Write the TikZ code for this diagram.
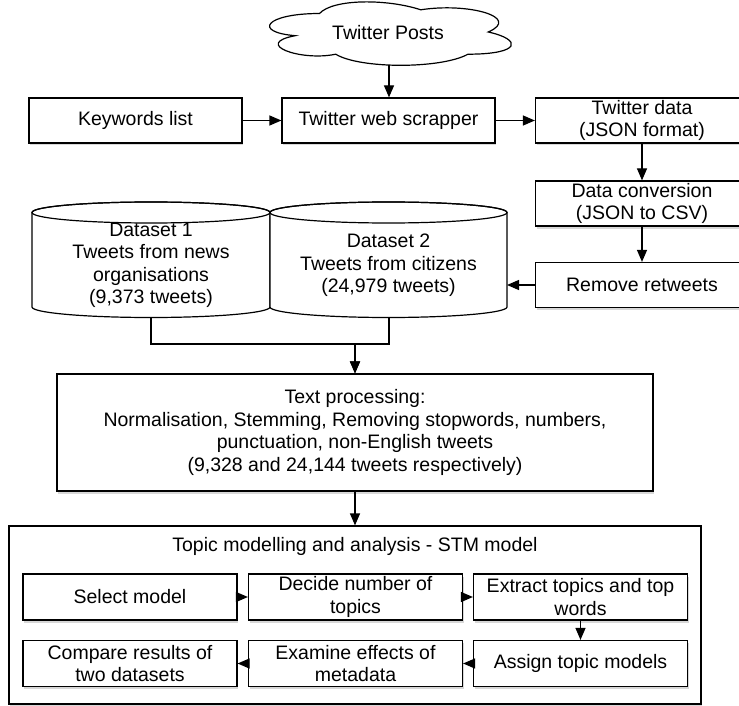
\documentclass[tikz,border=0pt]{standalone}
\usepackage{fontspec}
\setmainfont{Liberation Sans}
\usetikzlibrary{arrows.meta,shadows}
\newcommand\dfont{\fontsize{19.5}{22.5}\selectfont}
\tikzset{
 lw/.style={line width=1.2pt},
 boxshadow/.style={drop shadow={shadow xshift=1pt,shadow yshift=-2.5pt,opacity=0.22,fill=black!70}},
 flowbox/.style={draw, lw, fill=white, minimum width=213pt, minimum height=45pt, inner sep=0pt, align=center, font=\dfont, boxshadow},
 innerbox/.style={flowbox, minimum width=214pt, minimum height=46pt},
 txt/.style={align=center, font=\dfont, inner sep=0pt},
 arr/.style={lw, -{Triangle[length=12pt,width=10pt]}},
}
\begin{document}
\begin{tikzpicture}[x=1pt,y=-1pt]
\useasboundingbox (0,0) rectangle (739,706);
% cloud
\draw[lw, fill=white] (319.5,13.5) .. controls (265.5,13.5) and (252,32) .. (295.2,35.7)
  .. controls (252,43.84) and (300.6,61.6) .. (335.7,54.2)
  .. controls (360,69) and (441,69) .. (468,54.2)
  .. controls (522,54.2) and (522,39.4) .. (488.25,32)
  .. controls (522,17.2) and (468,2.4) .. (420.75,9.8)
  .. controls (387,-1.3) and (333,-1.3) .. (319.5,13.5) -- cycle;
\node[txt] (posts) at (388,33) {Twitter Posts};
\coordinate (postsb) at (389,65.3);

% first row
\node[flowbox] (kw) at (135.5,120.5) {Keywords list};
\node[flowbox] (scr) at (388.5,120.5) {Twitter web scrapper};
\node[flowbox] (tdata) at (642,120.5) {Twitter data\\(JSON format)};
\node[flowbox] (conv) at (642,203.5) {Data conversion\\(JSON to CSV)};
\node[flowbox] (rm) at (642,285) {Remove retweets};

% cylinders
\draw[lw, fill=white] (32,212.5) -- (32,307) arc[start angle=180,end angle=0,x radius=119,y radius=10.5]
  -- (270,212.5) arc[start angle=0,end angle=-180,x radius=119,y radius=10.5] -- cycle;
\draw[lw] (151,212.5) ellipse [x radius=119, y radius=10.5];
\draw[lw, fill=white] (270,212.5) -- (270,307) arc[start angle=180,end angle=0,x radius=118.5,y radius=10.5]
  -- (507,212.5) arc[start angle=0,end angle=-180,x radius=118.5,y radius=10.5] -- cycle;
\draw[lw] (388.5,212.5) ellipse [x radius=118.5, y radius=10.5];
\node[txt] (ds1) at (151,265.5) {Dataset 1\\Tweets from news\\organisations\\(9,373 tweets)};
\node[txt] (ds2) at (388.5,265.5) {Dataset 2\\Tweets from citizens\\(24,979 tweets)};
\coordinate (ds1b) at (151,317.5);
\coordinate (ds2b) at (389,317.5);
\coordinate (ds2r) at (507,285);
\coordinate (join) at (355,344);

% text processing
\node[flowbox, minimum width=596pt, minimum height=117pt] (tp) at (355,432.5)
 {Text processing:\\Normalisation, Stemming, Removing stopwords, numbers,\\punctuation, non-English tweets\\(9,328 and 24,144 tweets respectively)};

% STM
\node[draw, lw, fill=white, minimum width=692pt, minimum height=178pt, inner sep=0pt, boxshadow] (stm) at (355,615) {};
\node[txt] (stmt) at (355,546) {Topic modelling and analysis - STM model};
\node[innerbox] (sel) at (130,597) {Select model};
\node[innerbox] (dec) at (355.5,597) {Decide number of\\topics};
\node[innerbox] (ext) at (580.5,597) {Extract topics and top\\words};
\node[innerbox] (cmp) at (130,663.5) {Compare results of\\two datasets};
\node[innerbox] (exa) at (355.5,663.5) {Examine effects of\\metadata};
\node[innerbox] (asg) at (580.5,663.5) {Assign topic models};

% connectors
\draw[arr] (postsb) -- (postsb |- scr.north);
\draw[arr] (kw) -- (scr);
\draw[arr] (scr) -- (tdata);
\draw[arr] (tdata) -- (conv);
\draw[arr] (conv) -- (rm);
\draw[arr] (rm.west) -- (ds2r);
\draw[arr] (ds1b) |- (join) -- (tp.north);
\draw[arr] (ds2b) |- (join) -- (tp.north);
\draw[arr] (tp.south) -- (stm.north);
\draw[arr] (sel) -- (dec);
\draw[arr] (dec) -- (ext);
\draw[arr] (ext) -- (asg);
\draw[arr] (asg) -- (exa);
\draw[arr] (exa) -- (cmp);
\end{tikzpicture}
\end{document}
